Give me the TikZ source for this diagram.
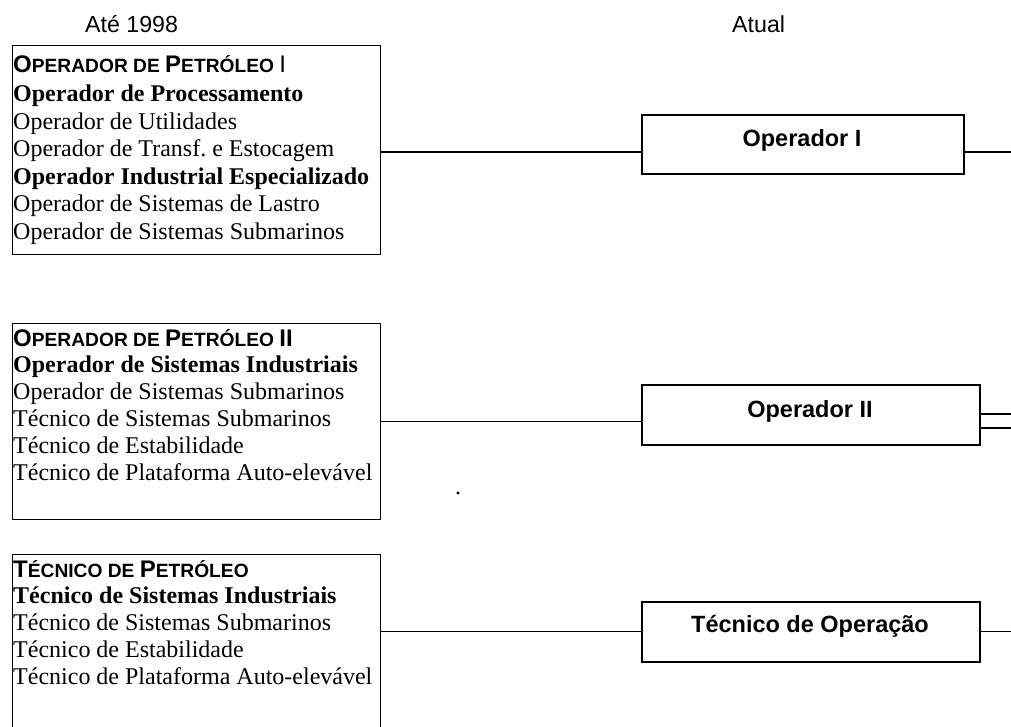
\documentclass[tikz,border=0pt]{standalone}
\usepackage{fontspec}
\setmainfont{Liberation Serif}
\newfontfamily\arialf{Liberation Sans}
\newcommand\bigc[1]{{\arialf\bfseries\fontsize{24}{27}\selectfont #1}}
\newcommand\smc[1]{{\arialf\bfseries\fontsize{19.2}{27}\selectfont #1}}
\newcommand\serf{\fontsize{24}{27.6}\selectfont}
\frenchspacing
\begin{document}
\begin{tikzpicture}[x=1pt,y=-1pt,
  lbox/.style={draw, line width=1.4pt, inner sep=0, anchor=north west},
  rbox/.style={draw, line width=1.6pt, inner sep=0, anchor=north west},
  rtext/.style={anchor=base, inner sep=0, font=\arialf\bfseries\fontsize{23.5}{27}\selectfont},
  htext/.style={anchor=base west, inner sep=0, font=\arialf\fontsize{23.2}{27}\selectfont},
  ltext/.style={anchor=base west, inner sep=0, font=\serf},
  conn/.style={line width=1.3pt}]
\useasboundingbox (0,0) rectangle (1011,727);
\clip (0,0) rectangle (1011,727);
% column headings
\node[htext] (h1) at (85,33) {Até 1998};
\node[htext] (h2) at (732,33) {Atual};
% left boxes
\node[lbox, minimum width=368pt, minimum height=209pt] (b1) at (12,45) {};
\node[lbox, minimum width=368pt, minimum height=196pt] (b2) at (12,323) {};
\node[lbox, minimum width=368pt, minimum height=200pt] (b3) at (12,554) {};
\node[ltext] (t1) at (13,72.5) {\frenchspacing\vtop{\baselineskip=27.6pt
  \hbox{\bigc{O}\smc{PERADOR DE }\bigc{P}\smc{ETRÓLEO }{\arialf\fontsize{24}{27}\selectfont I}}
  \vskip 1.5pt
  \hbox{\bfseries Operador de Processamento}
  \hbox{Operador de Utilidades}
  \hbox{Operador de Transf. e Estocagem}
  \hbox{\bfseries Operador Industrial Especializado}
  \hbox{Operador de Sistemas de Lastro}
  \hbox{Operador de Sistemas Submarinos}}};
\node[ltext] (t2) at (13,346) {\vtop{\baselineskip=26.8pt
  \hbox{\bigc{O}\smc{PERADOR DE }\bigc{P}\smc{ETRÓLEO }\bigc{II}}
  \hbox{\bfseries Operador de Sistemas Industriais}
  \hbox{Operador de Sistemas Submarinos}
  \hbox{Técnico de Sistemas Submarinos}
  \hbox{Técnico de Estabilidade}
  \hbox{Técnico de Plataforma Auto-elevável}}};
\node[ltext] (t3) at (13,577) {\vtop{\baselineskip=26.8pt
  \hbox{\bigc{T}\smc{ÉCNICO DE }\bigc{P}\smc{ETRÓLEO}}
  \hbox{\bfseries Técnico de Sistemas Industriais}
  \hbox{Técnico de Sistemas Submarinos}
  \hbox{Técnico de Estabilidade}
  \hbox{Técnico de Plataforma Auto-elevável}}};
\node[ltext] (dot) at (455,494.5) {.};
% right boxes
\node[rbox, minimum width=322pt, minimum height=59pt] (o1) at (641,114) {};
\node[rbox, minimum width=338pt, minimum height=60pt] (o2) at (641,384) {};
\node[rbox, minimum width=338pt, minimum height=60pt] (o3) at (641,601) {};
\node[rtext] (l1) at (802,147) {Operador I};
\node[rtext] (l2) at (810,417) {Operador II};
\node[rtext] (l3) at (810,632) {Técnico de Operação};
% connectors
\coordinate (e1) at (1011,152);
\coordinate (e2a) at (1011,414);
\coordinate (e2b) at (1011,428);
\coordinate (e3) at (1011,631);
\draw[conn] (b1.east |- e1) -- (o1.west |- e1);
\draw[conn] (o1.east |- e1) -- (e1);
\draw[conn] (b2.east) -- (o2.west |- b2.east);
\draw[conn] (o2.east |- e2a) -- (e2a);
\draw[conn] (o2.east |- e2b) -- (e2b);
\draw[conn] (b3.east |- o3.west) -- (o3.west);
\draw[conn] (o3.east) -- (e3 |- o3.east);
\end{tikzpicture}
\end{document}
